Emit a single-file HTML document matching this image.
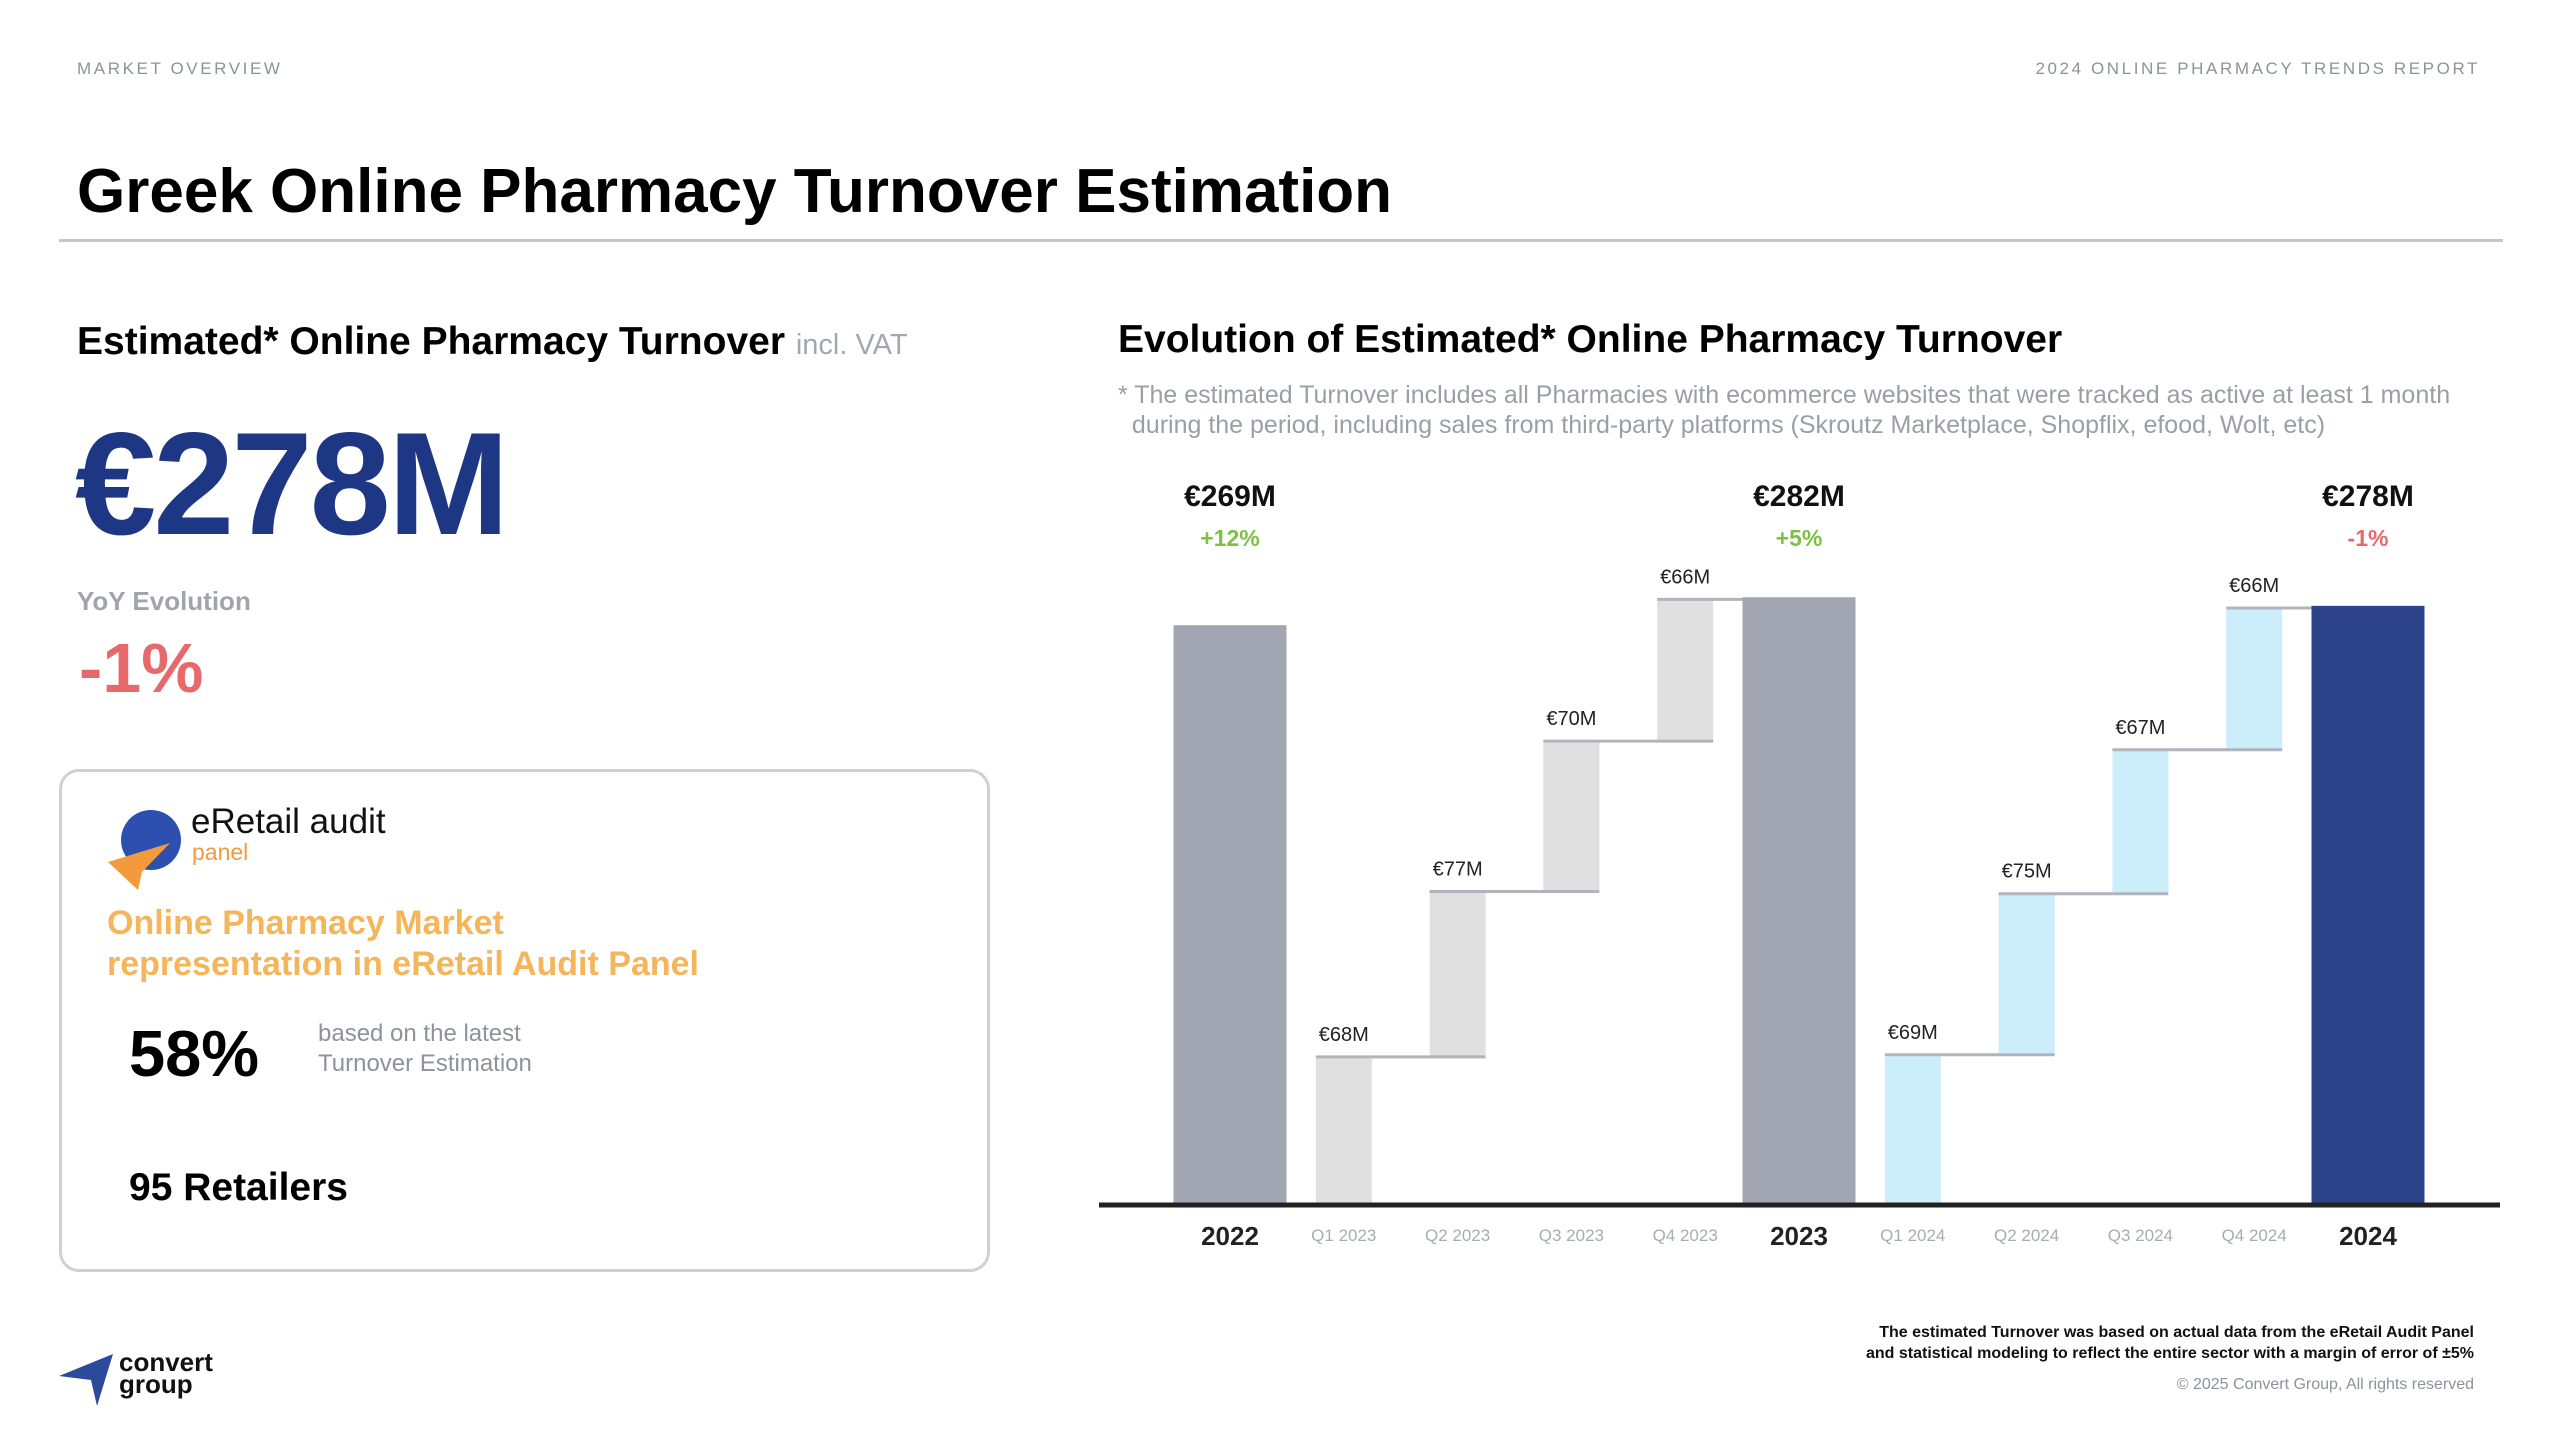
<!DOCTYPE html>
<html><head><meta charset="utf-8">
<style>
*{margin:0;padding:0;box-sizing:border-box}
body{width:2560px;height:1440px;background:#fff;font-family:"Liberation Sans",Arial,sans-serif;position:relative;overflow:hidden}
.a{position:absolute;white-space:nowrap}
</style></head><body>
<div class="a" style="left:77px;top:59px;font-size:17px;letter-spacing:2.6px;color:#8d929b">MARKET OVERVIEW</div>
<div class="a" style="right:80px;top:59px;font-size:17px;letter-spacing:2.6px;color:#8d929b">2024 ONLINE PHARMACY TRENDS REPORT</div>
<div class="a" style="left:77px;top:156px;font-size:62px;font-weight:bold;color:#000">Greek Online Pharmacy Turnover Estimation</div>
<div class="a" style="left:59px;top:239px;width:2444px;height:3px;background:#c4c7cc"></div>

<div class="a" style="left:77px;top:320px;font-size:39px;font-weight:bold;color:#000">Estimated* Online Pharmacy Turnover <span style="font-size:29px;font-weight:normal;color:#a3a7af">incl. VAT</span></div>
<div class="a" style="left:75px;top:400px;font-size:146px;font-weight:bold;color:#1e3784;letter-spacing:-3px">€278M</div>
<div class="a" style="left:77px;top:586px;font-size:26px;font-weight:bold;color:#a0a4ad">YoY Evolution</div>
<div class="a" style="left:79px;top:628px;font-size:70px;font-weight:bold;color:#e8696b">-1%</div>

<div class="a" style="left:59px;top:769px;width:931px;height:503px;border:3px solid #cfd1d5;border-radius:20px"></div>
<svg class="a" style="left:100px;top:800px" width="90" height="90" viewBox="0 0 90 90">
<circle cx="51" cy="40" r="30" fill="#2d4fb0"/>
<polygon points="8,62 70,43 42,72 38,90" fill="#f39a3c"/>
</svg>
<div class="a" style="left:191px;top:802px;font-size:35px;color:#111">eRetail audit</div>
<div class="a" style="left:192px;top:839px;font-size:23px;color:#f39a3c">panel</div>
<div class="a" style="left:107px;top:903px;font-size:34px;font-weight:bold;color:#f5b55a;line-height:41px">Online Pharmacy Market<br>representation in eRetail Audit Panel</div>
<div class="a" style="left:129px;top:1016px;font-size:65px;font-weight:bold;color:#000">58%</div>
<div class="a" style="left:318px;top:1019px;font-size:24px;color:#8d929b;line-height:30px">based on the latest<br>Turnover Estimation</div>
<div class="a" style="left:129px;top:1166px;font-size:39px;font-weight:bold;color:#000">95 Retailers</div>

<svg class="a" style="left:55px;top:1348px" width="65" height="62" viewBox="0 0 65 62">
<polygon points="4,28 58,6 42,58 36,32" fill="#2c4a9c"/>
</svg>
<div class="a" style="left:119px;top:1351px;font-size:26px;font-weight:bold;color:#111;line-height:22px">convert<br>group</div>

<div class="a" style="left:1118px;top:318px;font-size:39px;font-weight:bold;color:#000">Evolution of Estimated* Online Pharmacy Turnover</div>
<div class="a" style="left:1118px;top:380px;font-size:25px;color:#9a9ea6;line-height:30px">* The estimated Turnover includes all Pharmacies with ecommerce websites that were tracked as active at least 1 month<br>&nbsp;&nbsp;during the period, including sales from third-party platforms (Skroutz Marketplace, Shopflix, efood, Wolt, etc)</div>

<svg class="a" id="chart" style="left:0;top:0" width="2560" height="1440"></svg>

<div class="a" style="right:86px;top:1322px;font-size:16px;font-weight:bold;color:#111;text-align:right;line-height:21px">The estimated Turnover was based on actual data from the eRetail Audit Panel<br>and statistical modeling to reflect the entire sector with a margin of error of ±5%</div>
<div class="a" style="right:86px;top:1376px;font-size:16px;color:#8d929b">© 2025 Convert Group, All rights reserved</div>

<script>
const categories = ["2022","Q1 2023","Q2 2023","Q3 2023","Q4 2023","2023","Q1 2024","Q2 2024","Q3 2024","Q4 2024","2024"];
const isTotal = [true,false,false,false,false,true,false,false,false,false,true];
const values = [269,68,77,70,66,282,69,75,67,66,278];
const valueLabels = ["€269M","€68M","€77M","€70M","€66M","€282M","€69M","€75M","€67M","€66M","€278M"];
const growthLabels = ["+12%","","","","","+5%","","","","","-1%"];

const svg = document.getElementById('chart');
const NS = 'http://www.w3.org/2000/svg';
const baseY = 1203, pxPerM = 2.148, x0 = 1230, step = 113.8;
const y = v => baseY - v * pxPerM;
const xc = i => x0 + i * step;
function mk(tag, attrs){const e=document.createElementNS(NS,tag);for(const k in attrs)e.setAttribute(k,attrs[k]);svg.appendChild(e);return e;}

let cum = 0;
const tops = [];
categories.forEach((c,i)=>{
  const total = isTotal[i];
  const w = total ? 113 : 56;
  let lo, hi;
  if(total){ lo=0; hi=values[i]; cum=0; } else { lo=cum; hi=cum+values[i]; cum=hi; }
  tops.push({hi,total,w});
  let fill;
  if(total) fill = c==="2024" ? "#2c438a" : "#a2a6b2";
  else fill = c.indexOf("2023")>=0 ? "#e0e0e0" : "#cbeefa";
  const r = mk('rect',{x:xc(i)-w/2,y:y(hi),width:w,height:y(lo)-y(hi),fill:fill});
  
  
  const t = mk('text',{x:xc(i),'text-anchor':'middle','font-family':'Liberation Sans, Arial, sans-serif'});
  t.textContent = valueLabels[i];
  if(total){ t.setAttribute('y',506); t.setAttribute('font-size',30); t.setAttribute('font-weight','bold'); t.setAttribute('fill','#111'); }
  else { t.setAttribute('y',y(hi)-16); t.setAttribute('font-size',20); t.setAttribute('fill','#222'); }
  
  
  if(growthLabels[i]){
    const g = mk('text',{x:xc(i),y:546,'text-anchor':'middle','font-size':23,'font-weight':'bold','font-family':'Liberation Sans, Arial, sans-serif',fill:growthLabels[i][0]==='+'?'#7dc142':'#e8696b'});
    g.textContent = growthLabels[i];
    
    
  }
  const xl = mk('text',{x:xc(i),'text-anchor':'middle','font-family':'Liberation Sans, Arial, sans-serif'});
  xl.textContent = c;
  if(total){ xl.setAttribute('y',1245); xl.setAttribute('font-size',26); xl.setAttribute('font-weight','bold'); xl.setAttribute('fill','#222'); }
  else { xl.setAttribute('y',1241); xl.setAttribute('font-size',17); xl.setAttribute('fill','#a8abb2'); }
  
  
});
tops.forEach((t,i)=>{
  if(t.total || i+1>=tops.length) return;
  const nx = tops[i+1];
  const x1 = xc(i)-t.w/2;
  const x2 = nx.total ? xc(i+1)-nx.w/2 : xc(i+1)+nx.w/2;
  const l = mk('line',{x1:x1,x2:x2,y1:y(t.hi),y2:y(t.hi),stroke:'#b0b4bc','stroke-width':3});
  
  
});
const ax = mk('line',{x1:1099,x2:2500,y1:baseY+2,y2:baseY+2,stroke:'#222','stroke-width':5});


</script>
</body></html>
